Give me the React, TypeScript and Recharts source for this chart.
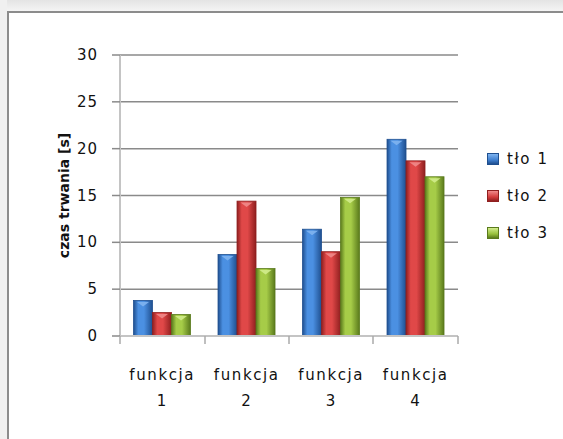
import React from 'react'
import { BarChart, Bar, XAxis, YAxis, CartesianGrid } from 'recharts'

const categories = ['funkcja 1', 'funkcja 2', 'funkcja 3', 'funkcja 4']
const tlo1 = [3.8, 8.7, 11.4, 21.0]
const tlo2 = [2.5, 14.4, 9.0, 18.7]
const tlo3 = [2.3, 7.2, 14.8, 17.0]
const yTicks = [0, 5, 10, 15, 20, 25, 30]
const seriesNames = ['tło 1', 'tło 2', 'tło 3']

const palette = [
  { id: 'gBlue', dark: '#1f4f8f', mid: '#4b90e2', light: '#7fb4f0', swatch: '#3f7fcf' },
  { id: 'gRed', dark: '#8f1f1f', mid: '#e04848', light: '#f08a8a', swatch: '#d43c3c' },
  { id: 'gGreen', dark: '#5a7a1c', mid: '#a6cc48', light: '#d2ec8c', swatch: '#98c03c' },
]

const data = categories.map((c, i) => ({
  name: c,
  [seriesNames[0]]: tlo1[i],
  [seriesNames[1]]: tlo2[i],
  [seriesNames[2]]: tlo3[i],
}))

const font = '"DejaVu Sans", Verdana, sans-serif'

function makeShape(p: typeof palette[number]) {
  return (props: any) => {
    const { x, y, width, height } = props
    if (!height || height <= 0) return null
    const hw = Math.min(6, width / 3)
    return (
      <g>
        <rect x={x} y={y} width={width} height={height} fill={`url(#${p.id})`} stroke={p.dark} strokeWidth={0.8} />
        <path
          d={`M${x + width / 2 - hw},${y + 1.5} L${x + width / 2 + hw},${y + 1.5} L${x + width / 2},${y + 6} Z`}
          fill={p.light}
          opacity={0.9}
        />
      </g>
    )
  }
}

const XTick = (props: any) => {
  const { x, y, payload } = props
  const [a, b] = String(payload.value).split(' ')
  return (
    <text x={x} y={y} textAnchor="middle" fontFamily={font} fontSize={15} fill="#111" letterSpacing={1.6}>
      <tspan x={x} dy={36}>{a}</tspan>
      <tspan x={x} dy={26}>{b}</tspan>
    </text>
  )
}

const YTick = (props: any) => {
  const { x, y, payload } = props
  return (
    <text x={x} y={y} dy={5} textAnchor="end" fontFamily={font} fontSize={15} fill="#111" letterSpacing={1}>
      {payload.value}
    </text>
  )
}

const LegendBox = () => (
  <div style={{ fontFamily: font, fontSize: 15, color: '#111', letterSpacing: 1.6 }}>
    {seriesNames.map((n, i) => (
      <div key={n} style={{ display: 'flex', alignItems: 'center', height: 37 }}>
        <span
          style={{
            display: 'inline-block',
            width: 10,
            height: 10,
            marginRight: 8,
            background: `linear-gradient(${palette[i].light}, ${palette[i].swatch} 60%, ${palette[i].dark})`,
            border: `1px solid ${palette[i].dark}`,
          }}
        />
        {n}
      </div>
    ))}
  </div>
)

export default function App() {
  return (
    <div
      style={{
        position: 'absolute',
        left: 0,
        top: 0,
        width: 563,
        height: 439,
        background: '#fff',
        overflow: 'hidden',
      }}
    >
      <div style={{ position: 'absolute', left: 0, top: 0, width: 563, height: 11, background: 'linear-gradient(#e4e4e4, #f4f4f4)' }} />
      <div style={{ position: 'absolute', left: 0, top: 0, width: 7, height: 439, background: '#f0f0f0' }} />
      <div
        style={{
          position: 'absolute',
          left: 7,
          top: 11,
          width: 600,
          height: 500,
          borderTop: '2px solid #8c8c8c',
          borderLeft: '2px solid #8c8c8c',
          boxSizing: 'border-box',
        }}
      />
      <div style={{ position: 'absolute', left: 0, top: 0 }}>
        <BarChart
          width={563}
          height={439}
          data={data}
          margin={{ top: 55, right: 105, bottom: 73, left: 0 }}
          barCategoryGap="16%"
          barGap={0}
        >
          <defs>
            {palette.map((p) => (
              <linearGradient key={p.id} id={p.id} x1="0" y1="0" x2="1" y2="0">
                <stop offset="0%" stopColor={p.dark} />
                <stop offset="25%" stopColor={p.mid} />
                <stop offset="55%" stopColor={p.mid} />
                <stop offset="100%" stopColor={p.dark} />
              </linearGradient>
            ))}
          </defs>
          <CartesianGrid vertical={false} stroke="#8a8a8a" strokeWidth={1.5} />
          <XAxis
            dataKey="name"
            height={30}
            tick={<XTick />}
            axisLine={{ stroke: '#c4c4c4', strokeWidth: 2 }}
            tickLine={false}
            interval={0}
          />
          <YAxis
            width={120}
            domain={[0, 30]}
            ticks={yTicks}
            tickSize={8}
            tickMargin={14}
            axisLine={{ stroke: '#c4c4c4', strokeWidth: 2 }}
            tickLine={{ stroke: '#8a8a8a', strokeWidth: 1.5 }}
            tick={<YTick />}
            label={{
              value: 'czas trwania [s]',
              angle: -90,
              position: 'insideLeft',
              offset: 64,
              style: { fontFamily: font, fontSize: 14, fontWeight: 'bold', fill: '#111', textAnchor: 'middle' },
            }}
          />
          {seriesNames.map((n, i) => (
            <Bar key={n} dataKey={n} isAnimationActive={false} shape={makeShape(palette[i])} />
          ))}
        </BarChart>
      </div>
      <div style={{ position: 'absolute', left: 487, top: 140 }}>
        <LegendBox />
      </div>
      <svg style={{ position: 'absolute', left: 0, top: 0, pointerEvents: 'none' }} width={563} height={439}>
        {[120, 205, 289, 373, 458].map((x) => (
          <line key={x} x1={x} x2={x} y1={336} y2={344} stroke="#aaa" strokeWidth={1.5} />
        ))}
      </svg>
    </div>
  )
}
